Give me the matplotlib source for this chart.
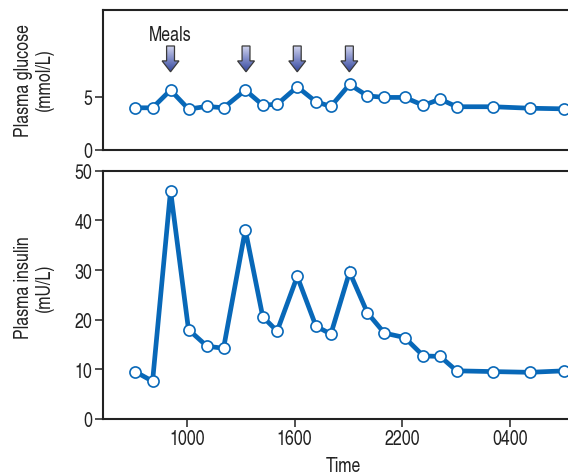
import matplotlib
matplotlib.use("Agg")
import matplotlib.pyplot as plt
import numpy as np
from matplotlib import font_manager
from matplotlib.patches import Polygon
from matplotlib.colors import LinearSegmentedColormap

# ---- data ----
hours = [7.15, 8.1, 9.1, 10.1, 11.13, 12.05, 13.26, 14.23, 15.03, 16.15, 17.19,
         18.02, 19.06, 20.05, 21.0, 22.13, 23.17, 24.1, 25.02, 27.03, 29.08, 31.01]
glucose = [3.96, 3.96, 5.63, 3.84, 4.09, 3.96, 5.63, 4.22, 4.28, 5.94, 4.53,
           4.09, 6.17, 5.09, 4.94, 4.94, 4.19, 4.78, 4.06, 4.06, 3.92, 3.86]
insulin = [9.5, 7.6, 46.0, 18.0, 14.65, 14.25, 38.1, 20.6, 17.7, 28.7, 18.7,
           17.1, 29.6, 21.4, 17.3, 16.4, 12.7, 12.6, 9.7, 9.55, 9.4, 9.7]
meal_hours = [9.1, 13.3, 16.15, 19.05]
xtick_hours = [10, 16, 22, 28]
xtick_labels = ["1000", "1600", "2200", "0400"]
glucose_ticks = [0, 5]
insulin_ticks = [0, 10, 20, 30, 40, 50]

names = {f.name for f in font_manager.fontManager.ttflist}
if "TeX Gyre Heros Cn" in names:
    fam, FS = "TeX Gyre Heros Cn", 14
elif "Archivo Narrow" in names:
    fam, FS = "Archivo Narrow", 14
else:
    fam, FS = "Liberation Sans", 12
plt.rcParams['font.family'] = [fam, 'DejaVu Sans']

W, H = 568, 477
fig = plt.figure(figsize=(W / 100, H / 100), dpi=100)

def px_ax(left, top, right, bottom):
    return fig.add_axes([left / W, 1 - bottom / H, (right - left) / W, (bottom - top) / H])

ax1 = px_ax(102.7, 11, 583, 150.7)
ax2 = px_ax(102.7, 171.7, 583, 420)
AXW = 583 - 102.7

LC = "#0868b8"
TC = "#222222"
xl = (5.325, 32.05)

for ax in (ax1, ax2):
    ax.set_xlim(*xl)
    ax.spines['right'].set_visible(False)
    for s in ('left', 'top', 'bottom'):
        ax.spines[s].set_linewidth(1.5)
        ax.spines[s].set_color(TC)
    ax.tick_params(axis='both', direction='out', length=6, width=1.1,
                   labelsize=FS, colors=TC, pad=1.5)

ax1.plot(hours, glucose, color=LC, lw=3.4, marker='o', ms=8,
         mfc='white', mec=LC, mew=1.2, solid_joinstyle='miter', zorder=3)
ax1.set_ylim(0, 13.2)
ax1.set_yticks(glucose_ticks)
ax1.set_xticks([])
ax1.set_ylabel("Plasma glucose\n(mmol/L)", fontsize=FS, linespacing=1.1,
               va='center', ha='center', color=TC)
ax1.yaxis.set_label_coords((34 - 102.7) / AXW, (150.7 - 80) / 139.7)

ax2.plot(hours, insulin, color=LC, lw=3.4, marker='o', ms=8,
         mfc='white', mec=LC, mew=1.2, solid_joinstyle='miter', zorder=3)
ax2.set_ylim(0, 50)
ax2.set_yticks(insulin_ticks)
ax2.set_xticks(xtick_hours)
ax2.set_xticklabels(xtick_labels)
ax2.set_ylabel("Plasma insulin\n(mU/L)", fontsize=FS, linespacing=1.1,
               va='center', ha='center', color=TC)
ax2.yaxis.set_label_coords((34 - 102.7) / AXW, (420 - 288) / 248.3)
ax2.set_xlabel("Time", fontsize=FS, va='center', color=TC)
ax2.xaxis.set_label_coords((343 - 102.7) / AXW, -(467 - 420) / 248.3)

# gradient arrows
grad = np.linspace(0, 1, 64).reshape(-1, 1)
cmap = LinearSegmentedColormap.from_list("ar", ["#cfd2ec", "#7f8bc8", "#33479c"])
sw, hw = 0.22, 0.47
ytop, yhead, ytip = 9.8, 8.39, 7.36
for m in meal_hours:
    pts = [(m - sw, ytop), (m + sw, ytop), (m + sw, yhead), (m + hw, yhead),
           (m, ytip), (m - hw, yhead), (m - sw, yhead)]
    poly = Polygon(pts, closed=True, facecolor='none', edgecolor="#3a3a3a",
                   lw=0.9, zorder=5)
    ax1.add_patch(poly)
    im = ax1.imshow(grad, cmap=cmap, aspect='auto', origin='upper',
                    extent=(m - hw, m + hw, ytip, ytop), zorder=4)
    im.set_clip_path(poly)
ax1.set_xlim(*xl)
ax1.set_ylim(0, 13.2)
ax1.text(meal_hours[0], 10.85, "Meals", ha='center', va='center', fontsize=FS,
         color=TC)

fig.savefig("out.png", dpi=100)
